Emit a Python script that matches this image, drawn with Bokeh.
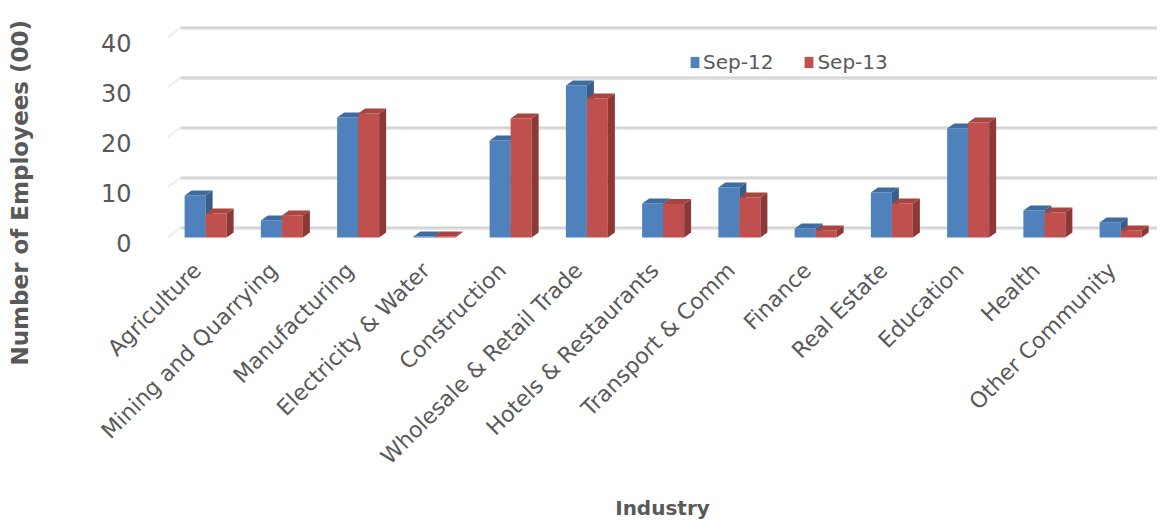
from bokeh.plotting import figure
from bokeh.models import Range1d, LinearAxis, FixedTicker, Legend, LegendItem
from bokeh.embed import file_html
from bokeh.resources import INLINE
import math

industries = ["Agriculture", "Mining and Quarrying", "Manufacturing",
              "Electricity & Water", "Construction", "Wholesale & Retail Trade",
              "Hotels & Restaurants", "Transport & Comm", "Finance", "Real Estate",
              "Education", "Health", "Other Community"]
sep12 = [8.4, 3.4, 24.0, 0.2, 19.4, 30.4, 6.8, 10.0, 1.8, 9.0, 21.8, 5.4, 3.0]
sep13 = [4.8, 4.4, 24.8, 0.2, 23.8, 27.8, 6.7, 8.0, 1.4, 6.8, 23.0, 5.0, 1.4]
y_ticks = [0, 10, 20, 30, 40]
series_names = ["Sep-12", "Sep-13"]

FONT = "DejaVu Sans"
GRAY = "#595959"

PX_X = 76.25          # px per category
PX_Y = 5.0            # px per unit
FRAME_W = 990
FRAME_H = 250
LEFT = 167
x0 = -0.5
x1 = x0 + FRAME_W / PX_X
y1 = 237 / PX_Y
y0 = y1 - FRAME_H / PX_Y

p = figure(frame_width=FRAME_W, frame_height=FRAME_H, x_range=Range1d(x0, x1),
           y_range=Range1d(y0, y1), output_backend="svg", toolbar_location=None,
           min_border_left=LEFT, min_border_right=0, min_border_top=0,
           min_border_bottom=0, outline_line_color=None, background_fill_color="white",
           border_fill_color="white")
p.xgrid.visible = False
p.ygrid.visible = False
p.yaxis.visible = False

# front-plane value axis (sits slightly lower than the bars' plane)
p.extra_y_ranges = {"front": Range1d(y0 + 1, y1 + 1)}
yax = LinearAxis(y_range_name="front", ticker=FixedTicker(ticks=y_ticks))
yax.axis_line_color = None
yax.major_tick_line_color = None
yax.minor_tick_line_color = None
yax.major_label_standoff = 30
yax.major_label_text_font = FONT
yax.major_label_text_font_size = "24px"
yax.major_label_text_color = GRAY
yax.axis_label = " "            # blank label only reserves room before the title
yax.axis_label_standoff = 37
yax.axis_label_text_font_size = "20px"
p.add_layout(yax, "left")

# back wall gridlines
back_dx = 13 / PX_X
back_dy = 2.0
gx0 = [x0 + back_dx] * len(y_ticks)
gx1 = [x1] * len(y_ticks)
gy = [v + back_dy for v in y_ticks]
p.segment(x0=gx0, y0=[g - 0.3 for g in gy], x1=gx1, y1=[g - 0.3 for g in gy],
          line_color="#e6e6e6", line_width=2)
p.segment(x0=gx0, y0=gy, x1=gx1, y1=gy, line_color="#d2d2d2", line_width=2)
# faint side-wall marks
p.segment(x0=[x0 - 0.09] * len(y_ticks), y0=[v - 1 for v in y_ticks],
          x1=[x0 + back_dx] * len(y_ticks), y1=gy, line_color="#eeeeee", line_width=2)

# 3D bars
w = 21 / PX_X
dx = 7 / PX_X
dy = 5 / PX_Y
styles = [("#4F81BD", "#385D8A", "#3F6C9F"), ("#C0504D", "#8C3836", "#A94441")]
front_renderers = []
for s, (vals, (cf, cs, ct)) in enumerate(zip([sep12, sep13], styles)):
    lefts = [i - w + s * w for i in range(len(vals))]
    rights = [l + w for l in lefts]
    fr = p.quad(left=lefts, right=rights, bottom=[0] * len(vals), top=vals,
                fill_color=cf, line_color=None)
    front_renderers.append(fr)
    side_xs = [[r, r + dx, r + dx, r] for r in rights]
    side_ys = [[0, dy, v + dy, v] for v in vals]
    p.patches(side_xs, side_ys, fill_color=cs, line_color=None)
    top_xs = [[l, l + dx, r + dx, r] for l, r in zip(lefts, rights)]
    top_ys = [[v, v + dy, v + dy, v] for v in vals]
    p.patches(top_xs, top_ys, fill_color=ct, line_color=None)

# category axis with rotated labels
p.xaxis.visible = False
LABEL_SHIFT = -0.11
tick_pos = [i + LABEL_SHIFT for i in range(len(industries))]
xax = LinearAxis(ticker=FixedTicker(ticks=tick_pos))
xax.major_label_overrides = {t: name for t, name in zip(tick_pos, industries)}
xax.major_label_orientation = math.pi / 4
xax.axis_line_color = None
xax.major_tick_line_color = None
xax.minor_tick_line_color = None
xax.major_label_standoff = 10
xax.major_label_text_font = FONT
xax.major_label_text_font_size = "22px"
xax.major_label_text_color = GRAY
xax.axis_label = "Industry"
xax.axis_label_text_font = FONT
xax.axis_label_text_font_style = "bold"
xax.axis_label_text_font_size = "20px"
xax.axis_label_text_color = GRAY
xax.axis_label_standoff = 15
p.add_layout(xax, "below")

# value-axis title
p.title.text = "Number of Employees (00)"
p.title_location = "left"
p.title.align = "left"
p.title.vertical_align = "bottom"
p.title.offset = -115
p.title.standoff = 6
p.title.text_font = FONT
p.title.text_font_style = "bold"
p.title.text_font_size = "23px"
p.title.text_color = GRAY

legend = Legend(items=[LegendItem(label=series_names[k], renderers=[front_renderers[k]])
                       for k in range(2)],
                orientation="horizontal", location=(522, 176),
                border_line_color=None, background_fill_alpha=0,
                glyph_width=11, glyph_height=14, label_height=14,
                label_standoff=3, spacing=30,
                padding=0, margin=0, label_text_font=FONT,
                label_text_font_size="20px", label_text_color=GRAY)
p.add_layout(legend, "center")

open("out.html", "w").write(file_html(p, INLINE))
